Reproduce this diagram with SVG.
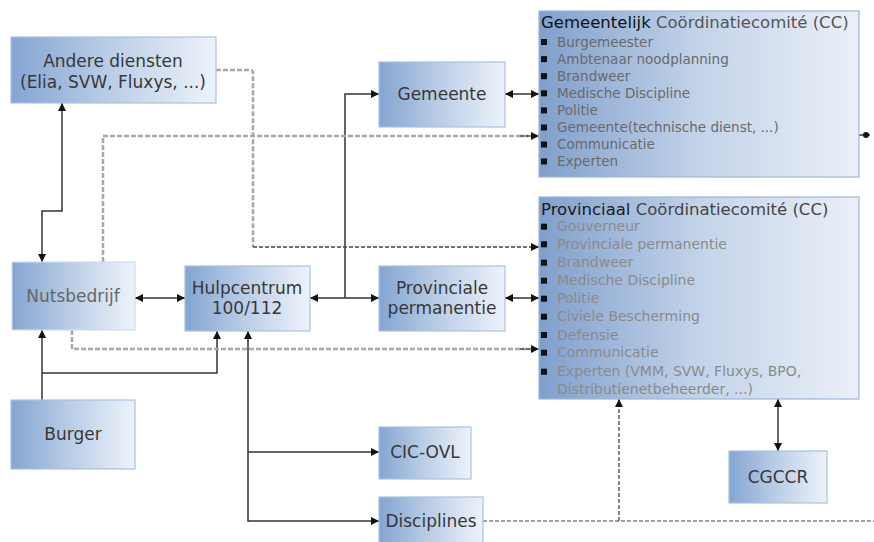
<svg xmlns="http://www.w3.org/2000/svg" width="874" height="542" viewBox="0 0 874 542">
<defs>
<linearGradient id="g" x1="0" y1="0" x2="1" y2="0">
<stop offset="0" stop-color="#84a5d1"/>
<stop offset="0.5" stop-color="#bccfe7"/>
<stop offset="1" stop-color="#eef3fa"/>
</linearGradient>
<linearGradient id="gc" x1="0" y1="0" x2="1" y2="0">
<stop offset="0" stop-color="#7f9fcc"/>
<stop offset="0.5" stop-color="#c3d3e9"/>
<stop offset="1" stop-color="#ebf0f8"/>
</linearGradient>
<marker id="a" viewBox="0 0 8 8" refX="8" refY="4" markerWidth="8" markerHeight="8" markerUnits="userSpaceOnUse" orient="auto-start-reverse">
<path d="M0,0 L8,4 L0,8 z" fill="#111"/>
</marker>
<style>
.n{fill:url(#g);stroke:#a9c1e0;stroke-width:1.2}
.cc{fill:url(#gc);stroke:#9bb6da;stroke-width:1.2}
.t{font-family:"DejaVu Sans",Verdana,sans-serif;font-size:17px;fill:#383838;text-anchor:middle}
.s{fill:none;stroke:#333;stroke-width:1.5}
.dg{fill:none;stroke:#a8a8a8;stroke-width:2.5;stroke-dasharray:5 2}
.dd{fill:none;stroke:#444;stroke-width:1.6;stroke-dasharray:4 2}
.l1{font-family:"DejaVu Sans",Verdana,sans-serif;font-size:13.5px;fill:#6a6a6a}
.l2{font-family:"DejaVu Sans",Verdana,sans-serif;font-size:14px;fill:#8a8a8a}
.ti{font-family:"DejaVu Sans",Verdana,sans-serif;font-size:16.5px}
.b{fill:#111}
</style>
</defs>
<g id="connectors">
<path class="s" d="M62,103 V211 H42 V262" marker-start="url(#a)" marker-end="url(#a)"/>
<path class="s" d="M135,298 H185" marker-start="url(#a)" marker-end="url(#a)"/>
<path class="s" d="M310,298 H379" marker-start="url(#a)" marker-end="url(#a)"/>
<path class="s" d="M345,298 V94 H379" marker-end="url(#a)"/>
<path class="s" d="M505,94 H539" marker-start="url(#a)" marker-end="url(#a)"/>
<path class="s" d="M505,298 H539" marker-start="url(#a)" marker-end="url(#a)"/>
<path class="s" d="M42,400 V330" marker-end="url(#a)"/>
<path class="s" d="M42,373 H217 V331" marker-end="url(#a)"/>
<path class="s" d="M248,331 V521 H379" marker-start="url(#a)" marker-end="url(#a)"/>
<path class="s" d="M248,452 H379" marker-end="url(#a)"/>
<path class="s" d="M778,399 V451" marker-start="url(#a)" marker-end="url(#a)"/>
<path class="dg" d="M216,70 H250 Q253,70 253,73 V247"/>
<path class="dd" d="M253,247 H539" marker-end="url(#a)"/>
<path class="dg" d="M103,262 V136 H535"/>
<path class="dd" d="M520,136 H539" marker-end="url(#a)"/>
<path class="dg" d="M72,330 V349 H535"/>
<path class="dd" d="M520,349 H539" marker-end="url(#a)"/>
<path class="dd" d="M483,521 H874" style="stroke-width:1.2"/>
<path class="dd" d="M619,521 V399" style="stroke:#666" marker-end="url(#a)"/>
<path class="s" d="M859,135 H870"/>
<circle cx="866" cy="135" r="3" fill="#111"/>
</g>
<g id="andere">
<rect class="n" x="11" y="37" width="205" height="66"/>
<text class="t" x="113" y="67">Andere diensten</text>
<text class="t" x="113" y="88">(Elia, SVW, Fluxys, ...)</text>
</g>
<g id="gemeente">
<rect class="n" x="379" y="62" width="126" height="65"/>
<text class="t" x="442" y="100">Gemeente</text>
</g>
<g id="nutsbedrijf">
<rect class="n" x="12" y="262" width="123" height="68" style="stroke:#d0dcee"/>
<text class="t" x="73" y="302" style="fill:#666">Nutsbedrijf</text>
</g>
<g id="hulpcentrum">
<rect class="n" x="185" y="266" width="125" height="65"/>
<text class="t" x="247" y="294">Hulpcentrum</text>
<text class="t" x="247" y="314">100/112</text>
</g>
<g id="provperm">
<rect class="n" x="379" y="266" width="126" height="65"/>
<text class="t" x="442" y="294">Provinciale</text>
<text class="t" x="442" y="314">permanentie</text>
</g>
<g id="burger">
<rect class="n" x="11" y="400" width="124" height="69"/>
<text class="t" x="73" y="440">Burger</text>
</g>
<g id="cicovl">
<rect class="n" x="379" y="427" width="92" height="52"/>
<text class="t" x="425" y="458">CIC-OVL</text>
</g>
<g id="disciplines">
<rect class="n" x="379" y="497" width="104" height="52"/>
<text class="t" x="431" y="527">Disciplines</text>
</g>
<g id="cgccr">
<rect class="n" x="729" y="451" width="98" height="52"/>
<text class="t" x="778" y="483">CGCCR</text>
</g>
<g id="gemcc">
<rect class="cc" x="539" y="11" width="320" height="166"/>
<text class="ti" x="541" y="28"><tspan fill="#111">Gemeentelijk</tspan><tspan fill="#555"> Coördinatiecomité (CC)</tspan></text>
<rect class="b" x="541" y="39" width="6" height="6"/><text class="l1" x="557" y="46.5">Burgemeester</text>
<rect class="b" x="541" y="56.1" width="6" height="6"/><text class="l1" x="557" y="63.6">Ambtenaar noodplanning</text>
<rect class="b" x="541" y="73.2" width="6" height="6"/><text class="l1" x="557" y="80.7">Brandweer</text>
<rect class="b" x="541" y="90.3" width="6" height="6"/><text class="l1" x="557" y="97.8">Medische Discipline</text>
<rect class="b" x="541" y="107.4" width="6" height="6"/><text class="l1" x="557" y="114.9">Politie</text>
<rect class="b" x="541" y="124.5" width="6" height="6"/><text class="l1" x="557" y="132">Gemeente(technische dienst, ...)</text>
<rect class="b" x="541" y="141.5" width="6" height="6"/><text class="l1" x="557" y="149">Communicatie</text>
<rect class="b" x="541" y="158.5" width="6" height="6"/><text class="l1" x="557" y="166">Experten</text>
</g>
<g id="provcc">
<rect class="cc" x="539" y="197" width="320" height="202"/>
<text class="ti" x="541" y="215"><tspan fill="#1a1a1a">Provinciaal</tspan><tspan fill="#444"> Coördinatiecomité (CC)</tspan></text>
<rect class="b" x="541" y="223.7" width="6" height="6"/><text class="l2" x="557" y="231.2">Gouverneur</text>
<rect class="b" x="541" y="241.3" width="6" height="6"/><text class="l2" x="557" y="248.8">Provinciale permanentie</text>
<rect class="b" x="541" y="259.7" width="6" height="6"/><text class="l2" x="557" y="267.2">Brandweer</text>
<rect class="b" x="541" y="277.7" width="6" height="6"/><text class="l2" x="557" y="285.2">Medische Discipline</text>
<rect class="b" x="541" y="295.7" width="6" height="6"/><text class="l2" x="557" y="303.2">Politie</text>
<rect class="b" x="541" y="313.7" width="6" height="6"/><text class="l2" x="557" y="321.2">Civiele Bescherming</text>
<rect class="b" x="541" y="332" width="6" height="6"/><text class="l2" x="557" y="339.5">Defensie</text>
<rect class="b" x="541" y="349.7" width="6" height="6"/><text class="l2" x="557" y="357.2">Communicatie</text>
<rect class="b" x="541" y="368.7" width="6" height="6"/><text class="l2" x="557" y="376.2">Experten (VMM, SVW, Fluxys, BPO,</text>
<text class="l2" x="557" y="393.8">Distributienetbeheerder, ...)</text>
</g>
</svg>
